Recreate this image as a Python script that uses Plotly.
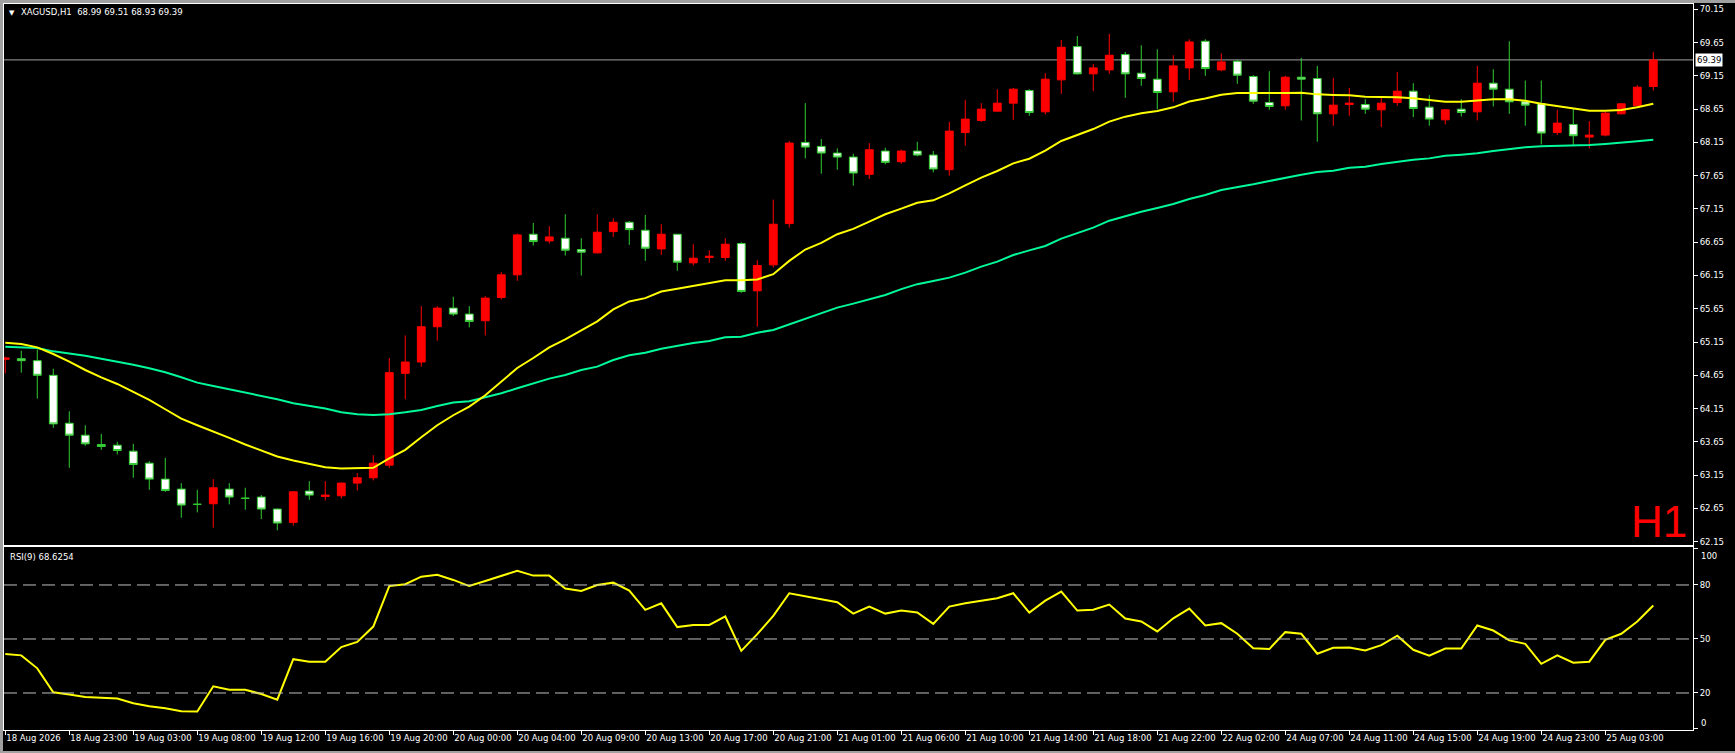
import plotly.graph_objects as go

W, H = 1735, 753
ML, MR, MT, MB = 4, 42, 4, 23
PW, PH = W - ML - MR, H - MT - MB


def px_x(x):
    return (x - ML) / PW


def px_y(y):
    return (H - MB - y) / PH


# XAGUSD H1 candles, bar index 0..103
opens = [64.89, 64.90, 64.87, 64.65, 63.93, 63.75, 63.61, 63.60, 63.51, 63.33,
         63.09, 62.94, 62.712, 62.72, 62.94, 62.803, 62.82, 62.64, 62.44, 62.91,
         62.83, 62.84, 63.03, 63.11, 63.30, 64.68, 64.85, 65.38, 65.66, 65.57,
         65.47, 65.82, 66.16, 66.77, 66.67, 66.71, 66.54, 66.49, 66.81, 66.95,
         66.83, 66.55, 66.77, 66.34, 66.42, 66.42, 66.63, 65.92, 66.31, 66.93,
         68.15, 68.09, 67.99, 67.93, 67.67, 68.02, 67.86, 68.02, 67.96, 67.74,
         68.30, 68.48, 68.62, 68.74, 68.93, 68.61, 69.09, 69.59, 69.18, 69.24,
         69.47, 69.19, 69.10, 68.91, 69.27, 69.67, 69.24, 69.37, 69.14, 68.75,
         68.70, 69.13, 69.11, 68.58, 68.72, 68.72, 68.64, 68.75, 68.92, 68.68,
         68.49, 68.65, 68.61, 69.04, 68.95, 68.76, 68.73, 68.30, 68.42, 68.23,
         68.26, 68.58, 68.70, 68.99]
highs = [64.93, 65.02, 65.04, 64.75, 64.11, 63.90, 63.77, 63.65, 63.62, 63.36,
         63.41, 63.03, 62.93, 63.09, 63.03, 62.96, 62.85, 62.65, 62.91, 63.06,
         63.06, 63.04, 63.18, 63.45, 64.91, 65.25, 65.69, 65.69, 65.83, 65.69,
         65.84, 66.20, 66.78, 66.94, 66.89, 67.07, 66.71, 67.07, 67.01, 66.97,
         67.06, 66.92, 66.77, 66.62, 66.53, 66.71, 66.65, 66.38, 67.29, 68.17,
         68.74, 68.20, 68.06, 67.98, 68.14, 68.07, 68.04, 68.16, 68.02, 68.46,
         68.79, 68.74, 68.95, 68.97, 68.95, 69.19, 69.69, 69.75, 69.33, 69.78,
         69.51, 69.61, 69.55, 69.46, 69.70, 69.70, 69.49, 69.39, 69.16, 69.22,
         69.15, 69.42, 69.30, 69.12, 68.97, 68.80, 68.84, 69.21, 69.04, 68.86,
         68.65, 68.80, 69.30, 69.25, 69.67, 69.08, 69.08, 68.64, 68.66, 68.47,
         68.61, 68.74, 69.01, 69.51]
lows = [64.68, 64.69, 64.30, 63.86, 63.26, 63.59, 63.53, 63.46, 63.11, 62.93,
        62.90, 62.51, 62.59, 62.36, 62.71, 62.63, 62.49, 62.32, 62.39, 62.78,
        62.77, 62.80, 62.92, 63.07, 63.26, 64.29, 64.78, 65.17, 65.54, 65.37,
        65.25, 65.79, 66.07, 66.60, 66.63, 66.45, 66.15, 66.48, 66.73, 66.61,
        66.37, 66.46, 66.22, 66.30, 66.34, 66.37, 65.89, 65.38, 66.27, 66.87,
        67.91, 67.68, 67.74, 67.50, 67.60, 67.82, 67.83, 67.94, 67.70, 67.65,
        68.10, 68.46, 68.61, 68.49, 68.55, 68.57, 68.88, 69.17, 68.92, 69.18,
        68.82, 69.00, 68.65, 68.76, 69.09, 69.15, 69.22, 69.03, 68.73, 68.64,
        68.64, 68.48, 68.16, 68.40, 68.55, 68.58, 68.38, 68.70, 68.53, 68.40,
        68.42, 68.54, 68.48, 68.69, 68.58, 68.40, 68.12, 68.26, 68.11, 68.06,
        68.24, 68.57, 68.68, 68.93]
closes = [64.91, 64.87, 64.65, 63.92, 63.75, 63.62, 63.58, 63.52, 63.31, 63.09,
          62.92, 62.70, 62.711, 62.96, 62.82, 62.802, 62.64, 62.43, 62.90, 62.85,
          62.85, 63.03, 63.11, 63.33, 64.69, 64.85, 65.38, 65.66, 65.57, 65.46,
          65.81, 66.16, 66.76, 66.66, 66.73, 66.53, 66.50, 66.80, 66.95, 66.84,
          66.56, 66.77, 66.35, 66.41, 66.44, 66.62, 65.91, 66.30, 66.92, 68.14,
          68.08, 67.99, 67.93, 67.69, 68.04, 67.85, 68.02, 67.96, 67.75, 68.32,
          68.50, 68.65, 68.74, 68.95, 68.60, 69.10, 69.58, 69.18, 69.27, 69.46,
          69.18, 69.11, 68.90, 69.30, 69.66, 69.26, 69.36, 69.16, 68.77, 68.69,
          69.13, 69.10, 68.58, 68.71, 68.74, 68.65, 68.74, 68.92, 68.66, 68.50,
          68.64, 68.60, 69.04, 68.95, 68.76, 68.71, 68.29, 68.44, 68.25, 68.26,
          68.59, 68.73, 68.98, 69.39]

# moving averages
ma_fast = [65.14, 65.12, 65.07, 64.97, 64.855, 64.73, 64.62, 64.52, 64.40, 64.28,
           64.14, 64.00, 63.90, 63.81, 63.71, 63.61, 63.52, 63.43, 63.37, 63.32,
           63.27, 63.25, 63.25, 63.26, 63.40, 63.53, 63.72, 63.90, 64.05, 64.18,
           64.35, 64.55, 64.76, 64.91, 65.07, 65.19, 65.33, 65.46, 65.64, 65.76,
           65.81, 65.91, 65.95, 65.99, 66.03, 66.08, 66.08, 66.09, 66.17, 66.37,
           66.54, 66.64, 66.77, 66.85, 66.96, 67.07, 67.155, 67.244, 67.28, 67.385,
           67.505, 67.62, 67.72, 67.835, 67.905, 68.026, 68.171, 68.261, 68.351, 68.462,
           68.537, 68.587, 68.622, 68.677, 68.765, 68.81, 68.867, 68.892, 68.892, 68.882,
           68.892, 68.897, 68.872, 68.862, 68.857, 68.837, 68.837, 68.827, 68.815, 68.79,
           68.762, 68.762, 68.777, 68.797, 68.797, 68.777, 68.732, 68.697, 68.652, 68.627,
           68.627, 68.637, 68.677, 68.732]
ma_slow = [65.08, 65.07, 65.06, 65.01, 64.98, 64.945, 64.90, 64.86, 64.81, 64.755,
           64.695, 64.62, 64.54, 64.49, 64.44, 64.40, 64.35, 64.29, 64.23, 64.19,
           64.15, 64.094, 64.064, 64.054, 64.064, 64.094, 64.13, 64.19, 64.24, 64.26,
           64.32, 64.38, 64.455, 64.53, 64.60, 64.655, 64.73, 64.78, 64.88, 64.95,
           64.99, 65.05, 65.096, 65.136, 65.166, 65.221, 65.231, 65.291, 65.331, 65.416,
           65.501, 65.581, 65.667, 65.727, 65.792, 65.857, 65.945, 66.02, 66.067, 66.118,
           66.193, 66.283, 66.358, 66.458, 66.528, 66.593, 66.705, 66.784, 66.869, 66.974,
           67.044, 67.109, 67.164, 67.224, 67.30, 67.36, 67.435, 67.475, 67.52, 67.57,
           67.62, 67.665, 67.705, 67.725, 67.77, 67.785, 67.825, 67.86, 67.89, 67.91,
           67.951, 67.966, 67.986, 68.021, 68.051, 68.076, 68.091, 68.096, 68.101, 68.111,
           68.126, 68.141, 68.166, 68.191]

rsi = [41.6, 40.9, 33.7, 20.4, 19.1, 17.8, 17.4, 16.9, 14.3, 12.6,
       11.5, 9.8, 9.7, 23.7, 21.8, 21.8, 19.4, 16.3, 38.8, 37.4,
       37.4, 45.5, 48.4, 56.9, 79.4, 80.4, 84.6, 85.7, 82.8, 79.4,
       82.2, 85.0, 87.9, 85.2, 85.2, 78.0, 76.7, 80.0, 81.3, 76.9,
       66.2, 69.8, 56.6, 57.8, 57.8, 62.5, 43.4, 52.7, 62.8, 75.4,
       73.9, 72.1, 70.4, 64.1, 68.0, 64.1, 65.8, 64.7, 58.4, 68.0,
       69.8, 71.1, 72.6, 75.4, 64.7, 71.3, 76.3, 65.8, 66.2, 69.1,
       61.4, 59.7, 54.2, 61.5, 66.9, 57.5, 58.8, 52.9, 44.9, 44.4,
       53.8, 52.9, 41.8, 45.1, 45.3, 43.6, 46.6, 51.8, 44.0, 40.7,
       44.7, 44.7, 57.5, 54.7, 49.2, 47.3, 36.2, 40.9, 36.8, 37.4,
       49.5, 52.9, 59.7, 68.6254]
rsi_levels = [20, 50, 80]

time_labels = ['18 Aug 2026', '18 Aug 23:00', '19 Aug 03:00', '19 Aug 08:00',
               '19 Aug 12:00', '19 Aug 16:00', '19 Aug 20:00', '20 Aug 00:00',
               '20 Aug 04:00', '20 Aug 09:00', '20 Aug 13:00', '20 Aug 17:00',
               '20 Aug 21:00', '21 Aug 01:00', '21 Aug 06:00', '21 Aug 10:00',
               '21 Aug 14:00', '21 Aug 18:00', '21 Aug 22:00', '22 Aug 02:00',
               '24 Aug 07:00', '24 Aug 11:00', '24 Aug 15:00', '24 Aug 19:00',
               '24 Aug 23:00', '25 Aug 03:00']
label_every = 4
price_ticks = [62.15 + 0.5 * i for i in range(17)]

bars = list(range(len(closes)))
tick_bars = bars[::label_every][:len(time_labels)]

FONT = 'DejaVu Sans'
small = dict(family=FONT, size=8.5, color='white')

fig = go.Figure()

fig.add_trace(go.Candlestick(
    x=bars, open=opens, high=highs, low=lows, close=closes,
    xaxis='x2', yaxis='y',
    increasing=dict(line=dict(color='#ff0000', width=1), fillcolor='#ff0000'),
    decreasing=dict(line=dict(color='#32cd32', width=1), fillcolor='#ffffff'),
    whiskerwidth=0,
    showlegend=False,
))
fig.add_trace(go.Scatter(x=bars, y=ma_slow, xaxis='x2', yaxis='y', mode='lines',
                         line=dict(color='#00fa9a', width=2), showlegend=False))
fig.add_trace(go.Scatter(x=bars, y=ma_fast, xaxis='x2', yaxis='y', mode='lines',
                         line=dict(color='#ffff00', width=2), showlegend=False))
fig.add_trace(go.Scatter(x=bars, y=rsi, xaxis='x', yaxis='y2', mode='lines',
                         line=dict(color='#ffff00', width=2), showlegend=False))

x_range = [-0.08, -0.08 + PW / 16]

fig.update_layout(
    width=W, height=H,
    margin=dict(l=ML, r=MR, t=MT, b=MB),
    paper_bgcolor='black',
    plot_bgcolor='black',
    font=small,
    showlegend=False,
    xaxis=dict(
        domain=[0, 1], anchor='y2', range=x_range,
        tickmode='array', tickvals=tick_bars, ticktext=time_labels,
        ticks='outside', ticklen=4, tickcolor='white', tickangle=0,
        ticklabelposition='outside right', tickfont=small,
        showline=True, linecolor='white', linewidth=1, mirror=True,
        showgrid=False, zeroline=False, rangeslider=dict(visible=False),
    ),
    xaxis2=dict(
        domain=[0, 1], anchor='y', matches='x', showticklabels=False,
        showline=True, linecolor='white', linewidth=1, mirror=True,
        showgrid=False, zeroline=False, rangeslider=dict(visible=False),
    ),
    yaxis=dict(
        domain=[px_y(545), 1], anchor='x2', side='right',
        range=[62.10, 70.23],
        tickmode='array', tickvals=price_ticks,
        ticktext=['%.2f' % v for v in price_ticks],
        ticks='outside', ticklen=4, tickcolor='white', tickfont=small,
        showline=True, linecolor='white', linewidth=1, mirror=True,
        showgrid=False, zeroline=False,
    ),
    yaxis2=dict(
        domain=[0, px_y(547)], anchor='x', side='right',
        range=[-0.56, 101.1],
        tickmode='array', tickvals=rsi_levels + [0, 100], ticktext=[str(v) for v in rsi_levels] + ['', ''],
        ticks='outside', ticklen=4, tickcolor='white', tickfont=small,
        showline=True, linecolor='white', linewidth=1, mirror=True,
        showgrid=False, zeroline=False,
    ),
)

shapes = []
for lvl in rsi_levels:
    shapes.append(dict(type='line', xref='x domain', yref='y2', x0=0, x1=1, y0=lvl, y1=lvl,
                       line=dict(color='#c0c0c0', width=1, dash='13px,6px')))
shapes.append(dict(type='line', xref='x2 domain', yref='y', x0=0, x1=1,
                   y0=closes[-1], y1=closes[-1], line=dict(color='#a0a0a0', width=1), layer='below'))
# grey window frame
shapes.append(dict(type='rect', xref='paper', yref='paper', x0=px_x(0), x1=px_x(W),
                   y0=px_y(3), y1=px_y(0), fillcolor='#a0a0a0', line=dict(width=0)))
shapes.append(dict(type='rect', xref='paper', yref='paper', x0=px_x(0), x1=px_x(3),
                   y0=px_y(H), y1=px_y(0), fillcolor='#a0a0a0', line=dict(width=0)))
shapes.append(dict(type='rect', xref='paper', yref='paper', x0=px_x(0), x1=px_x(W),
                   y0=px_y(H), y1=px_y(H - 2), fillcolor='#a0a0a0', line=dict(width=0)))
fig.update_layout(shapes=shapes)

annotations = [
    dict(xref='paper', yref='paper', x=px_x(11.5), y=px_y(13), text='▼', showarrow=False,
         xanchor='center', yanchor='middle', font=dict(family=FONT, size=7, color='white')),
    dict(xref='paper', yref='paper', x=px_x(19), y=px_y(12.5),
         text='XAGUSD,H1\u00a0\u00a0%.2f %.2f %.2f %.2f' % (opens[-1], highs[-1], lows[-1], closes[-1]),
         showarrow=False, xanchor='left', yanchor='middle', font=small),
    dict(xref='paper', yref='paper', x=px_x(8), y=px_y(557),
         text='RSI(9) %.4f' % rsi[-1], showarrow=False, xanchor='left', yanchor='middle', font=small),
    dict(xref='paper', yref='y', x=1, xshift=2, y=closes[-1], text='%.2f' % closes[-1],
         showarrow=False, xanchor='left', yanchor='middle', bgcolor='white', borderpad=1,
         font=dict(family=FONT, size=8.5, color='black')),
    dict(xref='paper', yref='y2', x=1, xshift=6, y=100, yshift=-7, text='100', showarrow=False,
         xanchor='left', yanchor='middle', font=small),
    dict(xref='paper', yref='y2', x=1, xshift=6, y=0, yshift=6, text='0', showarrow=False,
         xanchor='left', yanchor='middle', font=small),
    dict(xref='paper', yref='paper', x=px_x(1689), y=px_y(548), text='H1', showarrow=False,
         xanchor='right', yanchor='bottom',
         font=dict(family='Liberation Sans', size=44, color='#ff0000')),
]
fig.update_layout(annotations=annotations)

fig.write_html('out.html', config={'displayModeBar': False},
               post_script="document.body.style.margin='0';")
